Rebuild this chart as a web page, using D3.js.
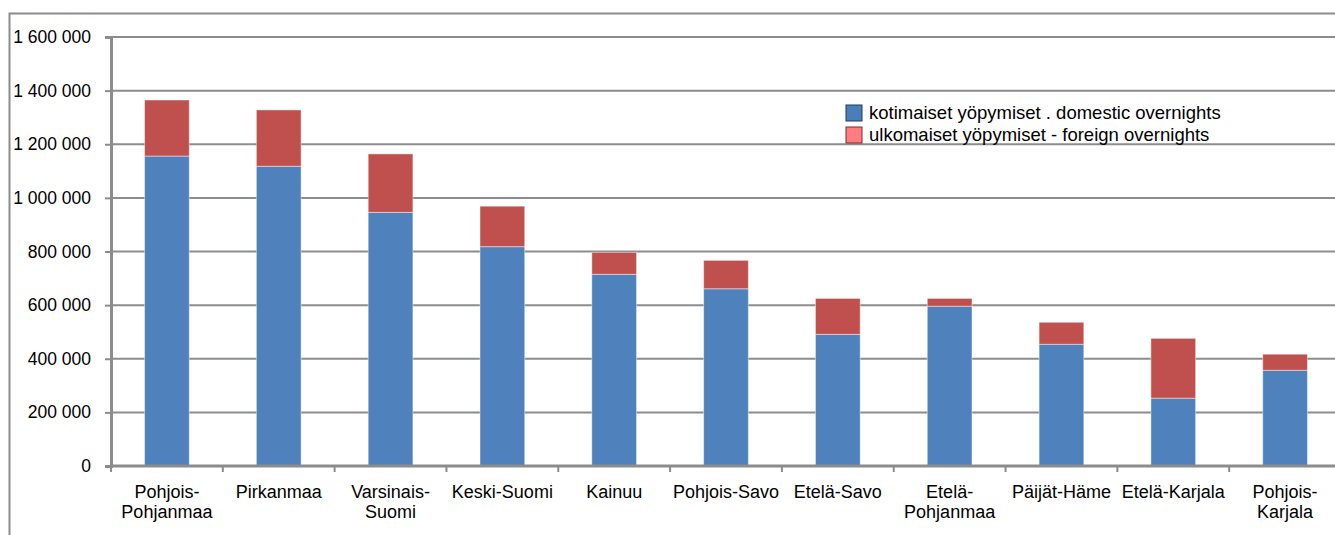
<!DOCTYPE html>
<meta charset="utf-8">
<style>
  body { margin: 0; background: #fff; }
  svg text { font-family: "Liberation Sans", Arial, sans-serif; fill: #000; }
</style>
<script src="https://d3js.org/d3.v7.min.js"></script>
<svg id="chart" width="1335" height="535"></svg>
<script>
// regions, ordered as in the chart
var regions = [
  ["Pohjois-", "Pohjanmaa"], ["Pirkanmaa"], ["Varsinais-", "Suomi"], ["Keski-Suomi"],
  ["Kainuu"], ["Pohjois-Savo"], ["Etelä-Savo"], ["Etelä-", "Pohjanmaa"],
  ["Päijät-Häme"], ["Etelä-Karjala"], ["Pohjois-", "Karjala"]
];
var domestic = [1156000, 1118000, 946000, 818000, 715000, 661000, 491000, 596000, 454000, 253000, 357000];
var foreign  = [209000, 210000, 218000, 151000, 82000, 106000, 134000, 29000, 82000, 223000, 60000];
var yTicks = [0, 200000, 400000, 600000, 800000, 1000000, 1200000, 1400000, 1600000];
var seriesNames = ["kotimaiset yöpymiset . domestic overnights", "ulkomaiset yöpymiset - foreign overnights"];

var svg = d3.select("#chart");
var mLeft = 111, mRight = 1341, mTop = 37, mBottom = 466;

// outer frame (only top and left edges visible)
svg.append("path")
  .attr("d", "M9.5,535 V13.5 H1335")
  .attr("fill", "none")
  .attr("stroke", "#8c8c8c")
  .attr("stroke-width", 2);

var x = d3.scaleBand()
  .domain(d3.range(regions.length))
  .range([mLeft, mRight])
  .paddingInner(0.6)
  .paddingOuter(0.3);

var y = d3.scaleLinear()
  .domain([0, 1600000])
  .range([mBottom, mTop]);

var fmt = function(d) { return d3.format(",")(d).replace(/,/g, " "); };

// gridlines
svg.append("g")
  .selectAll("line")
  .data(yTicks.slice(1))
  .enter().append("line")
    .attr("x1", mLeft).attr("x2", mRight)
    .attr("y1", function(d) { return y(d); })
    .attr("y2", function(d) { return y(d); })
    .attr("stroke", "#8c8c8c")
    .attr("stroke-width", 2);

// y axis
var yAxis = svg.append("g")
  .attr("transform", "translate(" + mLeft + ",0)")
  .call(d3.axisLeft(y).tickValues(yTicks).tickFormat(fmt).tickSize(6).tickPadding(14));
yAxis.select(".domain").attr("stroke", "#8c8c8c").attr("stroke-width", 3);
yAxis.selectAll(".tick line").attr("stroke", "#8c8c8c").attr("stroke-width", 2);
yAxis.selectAll(".tick text")
  .style("font-size", "17.5px")
  .style("font-family", "'Liberation Sans', Arial, sans-serif")
  .attr("fill", "#000");

// bars
var stackData = domestic.map(function(d, i) { return {i: i, domestic: d, foreign: foreign[i]}; });
var stack = d3.stack().keys(["domestic", "foreign"])(stackData);
var colors = ["#4f81bd", "#c0504d"];

svg.append("g")
  .selectAll("g")
  .data(stack)
  .enter().append("g")
    .attr("fill", function(d, i) { return colors[i]; })
  .selectAll("rect")
  .data(function(d) { return d; })
  .enter().append("rect")
    .attr("x", function(d) { return x(d.data.i); })
    .attr("width", x.bandwidth())
    .attr("y", function(d) { return y(d[1]); })
    .attr("height", function(d) { return y(d[0]) - y(d[1]); })
    .attr("stroke", "rgba(255,255,255,0.45)")
    .attr("stroke-width", 1);

// x axis
var step = x.step();
svg.append("line")
  .attr("x1", mLeft).attr("x2", mRight)
  .attr("y1", mBottom).attr("y2", mBottom)
  .attr("stroke", "#8c8c8c").attr("stroke-width", 3);

svg.append("g")
  .selectAll("line")
  .data(d3.range(regions.length + 1))
  .enter().append("line")
    .attr("x1", function(i) { return mLeft + i * step; })
    .attr("x2", function(i) { return mLeft + i * step; })
    .attr("y1", mBottom).attr("y2", mBottom + 6)
    .attr("stroke", "#8c8c8c").attr("stroke-width", 2);

var labels = svg.append("g")
  .selectAll("text")
  .data(regions)
  .enter().append("text")
    .attr("text-anchor", "middle")
    .attr("x", function(d, i) { return x(i) + x.bandwidth() / 2; })
    .attr("y", 498)
    .style("font-size", "18px");
labels.selectAll("tspan")
  .data(function(d) { return d; })
  .enter().append("tspan")
    .attr("x", function() { return this.parentNode.getAttribute("x"); })
    .attr("dy", function(d, i) { return i === 0 ? 0 : 20; })
    .text(function(d) { return d; });

// legend
var legendFill = ["#4a7ebb", "#ff7c80"];
var legendStroke = ["#1f3a5f", "#7a2a2a"];
var legend = svg.append("g")
  .selectAll("g")
  .data(seriesNames)
  .enter().append("g")
    .attr("transform", function(d, i) { return "translate(846," + (105 + i * 22) + ")"; });
legend.append("rect")
  .attr("width", 16).attr("height", 16)
  .attr("fill", function(d, i) { return legendFill[i]; })
  .attr("stroke", function(d, i) { return legendStroke[i]; });
legend.append("text")
  .attr("x", 23).attr("y", 14)
  .style("font-size", "18.5px")
  .text(function(d) { return d; });
</script>
